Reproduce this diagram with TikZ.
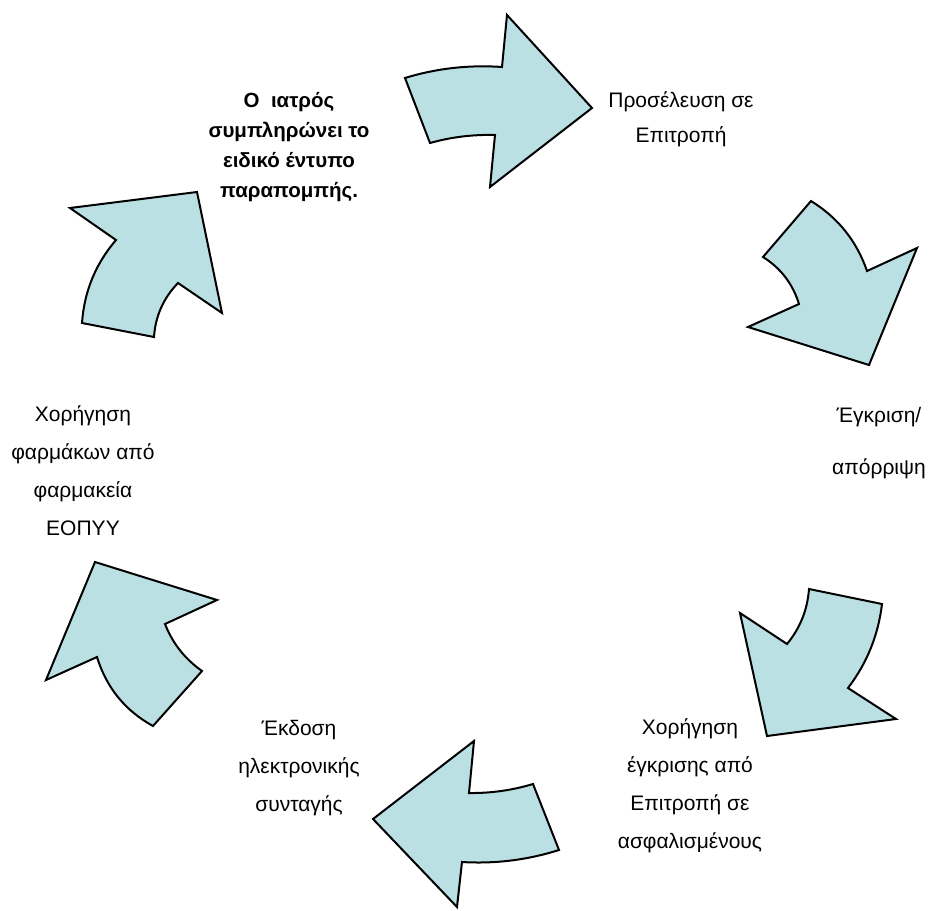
\documentclass[tikz,border=0pt]{standalone}
\usepackage{fontspec}
\setmainfont{Liberation Sans}
\definecolor{arrowfill}{RGB}{187,224,227}
\tikzset{
  cyclearrow/.style={draw=black, fill=arrowfill, line width=2pt, line join=miter},
  lbl/.style={align=center, font=\fontsize{21}{38}\selectfont, inner sep=0pt},
  lblbold/.style={align=center, font=\fontsize{20.5}{30}\selectfont\bfseries, inner sep=0pt}
}
\begin{document}
\begin{tikzpicture}[x=1pt,y=-1pt]
\useasboundingbox (0,0) rectangle (930,911);
% arrow 1 (top)
\draw[cyclearrow] (405,78) .. controls (436.6,68.3) and (469,64.7) .. (502,67)
  -- (507,15) -- (592,108) -- (490,187) -- (495,135)
  .. controls (472.9,134.4) and (451.3,137.0) .. (430,143) -- cycle;
% arrow 2 (upper right)
\draw[cyclearrow] (811,201) .. controls (838.0,217.7) and (856.7,241.0) .. (867,271)
  -- (917,248) -- (869,365) -- (748,327) -- (799,304)
  .. controls (792.8,283.9) and (780.8,268.2) .. (763,257) -- cycle;
% arrow 3 (lower right)
\draw[cyclearrow] (882,604) .. controls (878.3,635.1) and (867,663.1) .. (848,688)
  -- (896,719) -- (767,736) -- (740,613) -- (787,644)
  .. controls (800.2,628.0) and (807.5,609.6) .. (809,589) -- cycle;
% arrow 4 (bottom)
\draw[cyclearrow] (533,784) .. controls (512.1,790.3) and (490.8,793.3) .. (469,793)
  -- (474,741) -- (373,819) -- (457,907) -- (462,862)
  .. controls (495.1,864.0) and (527.4,860.0) .. (559,850) -- cycle;
% arrow 5 (lower left)
\draw[cyclearrow] (153,726) .. controls (125,710.6) and (106.4,687.6) .. (97,657)
  -- (46,680) -- (95,562) -- (217,600) -- (165,624)
  .. controls (172.6,643.4) and (185,659) .. (202,671) -- cycle;
% arrow 6 (upper left)
\draw[cyclearrow] (82,323) -- (154,337)
  .. controls (155.4,316.1) and (163.4,298.1) .. (178,283)
  -- (222,313) -- (197,192) -- (70,208) -- (116,240)
  .. controls (95.5,263.9) and (84.2,291.6) .. (82,323) -- cycle;
% labels
\node[lblbold] (doctor) at (289,147) {Ο\ \ ιατρός\\συμπληρώνει το\\ειδικό έντυπο\\παραπομπής.};
\node[lbl, font=\fontsize{21}{35}\selectfont] (committee) at (681,119) {Προσέλευση σε\\Επιτροπή};
\node[lbl, font=\fontsize{21}{52}\selectfont] (approval) at (879,443) {Έγκριση/\\απόρριψη};
\node[lbl] (grant) at (690,786) {Χορήγηση\\έγκρισης από\\Επιτροπή σε\\ασφαλισμένους};
\node[lbl] (prescr) at (299,768) {Έκδοση\\ηλεκτρονικής\\συνταγής};
\node[lbl] (pharm) at (83,471) {Χορήγηση\\φαρμάκων από\\φαρμακεία\\ΕΟΠΥΥ};
\end{tikzpicture}
\end{document}
